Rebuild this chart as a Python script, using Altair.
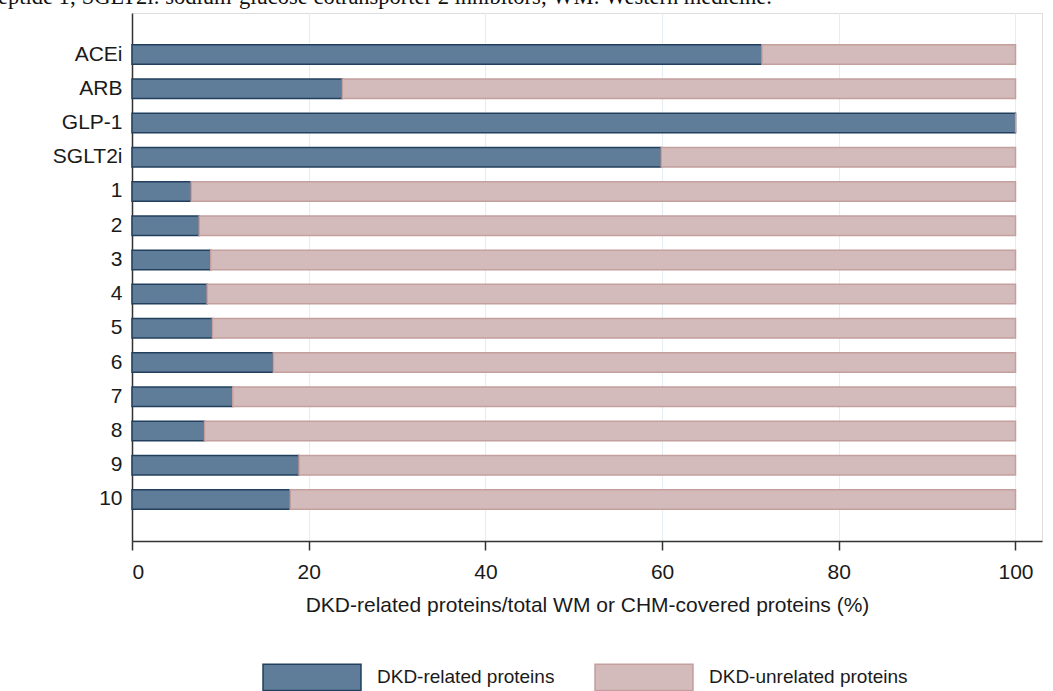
import altair as alt
import pandas as pd

categories = ["ACEi", "ARB", "GLP-1", "SGLT2i", "1", "2", "3", "4", "5", "6", "7", "8", "9", "10"]
related = [71.3, 23.8, 100.0, 59.9, 6.7, 7.6, 8.9, 8.5, 9.1, 16.0, 11.4, 8.2, 18.9, 17.9]
totals = [100] * len(categories)
series_names = ["DKD-related proteins", "DKD-unrelated proteins"]
fill_colors = ["#5f7d99", "#d2bbba"]
stroke_colors = ["#22405e", "#c49f9e"]
x_ticks = [0, 20, 40, 60, 80, 100]

rows = []
for c, r, t in zip(categories, related, totals):
    rows.append({"cat": c, "series": series_names[0], "start": 0, "end": r})
    rows.append({"cat": c, "series": series_names[1], "start": r, "end": t})
df = pd.DataFrame(rows)

FONT = "Liberation Sans"

bars = alt.Chart(df).mark_bar(strokeWidth=1.5).encode(
    y=alt.Y("cat:N", sort=categories,
            scale=alt.Scale(paddingInner=0.43, paddingOuter=0.93),
            axis=alt.Axis(title=None, ticks=False, labelFontSize=21, labelFont=FONT,
                          labelColor="#1a1a1a", labelPadding=10, domainColor="#333333",
                          domainWidth=1.5, grid=False)),
    x=alt.X("start:Q", scale=alt.Scale(domain=[0, 103], nice=False),
            axis=alt.Axis(values=x_ticks, title="DKD-related proteins/total WM or CHM-covered proteins (%)",
                          titleFont=FONT, titleFontSize=21, titleFontWeight="normal",
                          titleColor="#1a1a1a", titlePadding=12,
                          labelFont=FONT, labelFontSize=21, labelColor="#1a1a1a", labelPadding=11,
                          tickSize=9, tickColor="#333333", tickWidth=1.5,
                          domainColor="#333333", domainWidth=1.5,
                          grid=True, gridColor="#e4eef3", gridWidth=1.2)),
    x2="end:Q",
    color=alt.Color("series:N", scale=alt.Scale(domain=series_names, range=fill_colors),
                    legend=alt.Legend(title=None, orient="none", direction="horizontal",
                                      legendX=130, legendY=614,
                                      symbolType="M-1,-0.27H1V0.27H-1Z", symbolSize=9604,
                                      symbolStrokeWidth=1.5, symbolOpacity=1,
                                      labelFont=FONT, labelFontSize=19, labelColor="#1a1a1a",
                                      labelOffset=15, columnPadding=37, padding=0,
                                      labelLimit=400)),
    stroke=alt.Stroke("series:N", scale=alt.Scale(domain=series_names, range=stroke_colors),
                      legend=None),
)

chart = bars.properties(
    width=910, height=528,
    title=alt.TitleParams(
        "eptide 1; SGLT2i: sodium-glucose cotransporter 2 inhibitors; WM: Western medicine.",
        anchor="start", frame="group", font="Liberation Serif", fontSize=22.5,
        fontWeight="normal", color="#111111", offset=0, dx=-134, dy=13, baseline="alphabetic"),
    autosize=alt.AutoSizeParams(type="none"),
    padding={"left": 132, "top": 13, "right": 11, "bottom": 150},
).configure_view(stroke=None).configure(background="white")

chart.save("out.html", embed_options={"renderer": "svg", "actions": False})
